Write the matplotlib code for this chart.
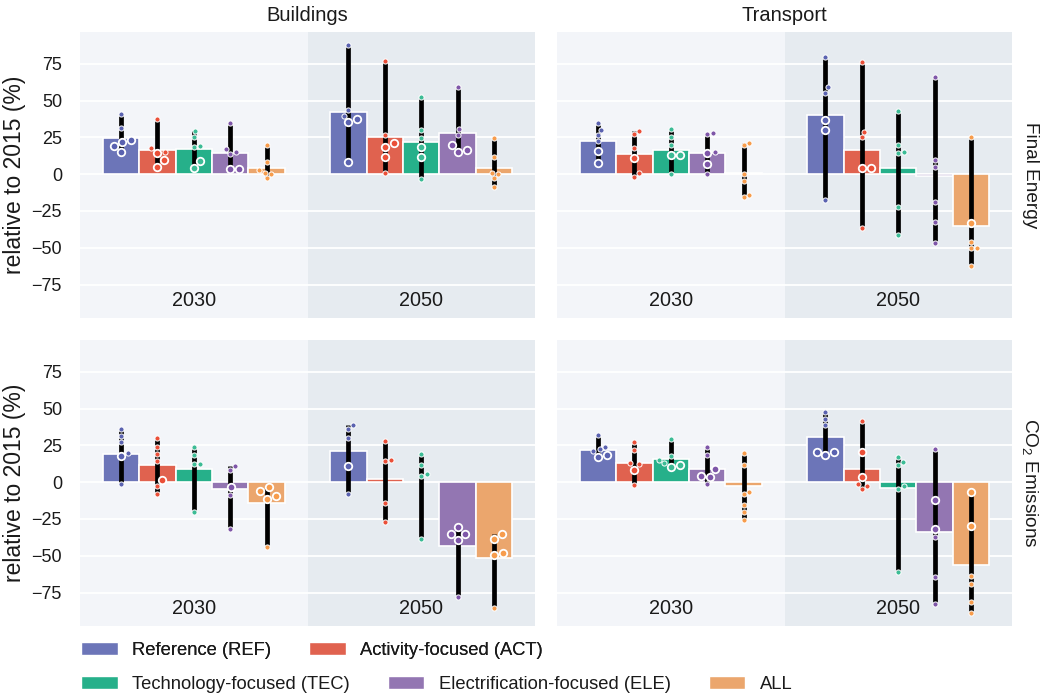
import numpy as np
import matplotlib
matplotlib.use('Agg')
import matplotlib.pyplot as plt
from matplotlib.patches import Patch

plt.rcParams['font.family'] = ['Liberation Sans', 'DejaVu Sans']
plt.rcParams['mathtext.fontset'] = 'custom'
plt.rcParams['mathtext.rm'] = 'Liberation Sans'
plt.rcParams['mathtext.it'] = 'Liberation Sans:italic'
plt.rcParams['text.color'] = '#1a1a1a'

scenarios = ['Reference (REF)', 'Activity-focused (ACT)', 'Technology-focused (TEC)',
             'Electrification-focused (ELE)', 'ALL']
years = ['2030', '2050']
sectors = ['Buildings', 'Transport']
indicators = ['Final Energy', 'CO$_2$ Emissions']

bar_colors = ['#6c75b8', '#e0624f', '#26b08a', '#9376b2', '#eba66d']
dot_colors = ['#5a62b0', '#ea4f38', '#3cbb95', '#7e56a8', '#f79c4c']

# mean change per scenario: [2030 values, 2050 values]
fe_bld_bars = [[24.7, 16.1, 17.0, 14.1, 3.9], [42.0, 25.6, 22.0, 27.7, 4.3]]
fe_trn_bars = [[22.4, 13.4, 16.3, 14.5, 0.7], [40.1, 16.6, 4.3, -1.4, -35.4]]
co2_bld_bars = [[19.4, 11.7, 9.0, -4.3, -14.2], [21.0, 2.3, 0.3, -43.3, -51.2]]
co2_trn_bars = [[22.1, 13.1, 15.8, 9.3, -2.9], [30.9, 9.0, -3.8, -33.9, -56.4]]

# single model results (small markers)
fe_bld_small = [
    [[41.0, 31.3], [37.4, 17.7, 15.0], [29.3, 25.2, 19.0, 18.6], [35.1, 15.2, 16.8, 13.8],
     [19.7, 8.2, -0.2, -2.9, 1.1, 2.7]],
    [[87.8, 43.3, 39.7], [77.1, 26.3, 0.7], [52.2, 29.7, 24.9, -3.2], [59.2, 30.6, 26.5],
     [24.9, 11.6, 0.2, -2.7, 1.1, -8.8]],
]
fe_trn_small = [
    [[34.7, 30.2, 26.8, 22.4], [29.5, 27.2, 17.7, 0.5, -2.0], [30.6, 25.2, 20.0, -0.2],
     [28.3, 27.0, 15.0, 0.2], [21.3, 20.0, 0.2, -4.3, -14.3, -15.6]],
    [[79.8, 59.0, 55.3, -17.2], [76.4, 29.0, 25.2, -36.7], [42.9, 15.4, 19.5, 14.3, -22.0, -41.3],
     [65.8, 9.5, 4.8, -19.0, -32.7, -46.5], [25.6, -45.8, -50.1, -50.1, -62.4]],
]
co2_bld_small = [
    [[36.1, 31.6, 27.3, 20.1, -0.9], [30.0, 23.9, 19.2, 14.4, -2.7, -7.7],
     [23.9, 18.5, 12.6, 12.6, -20.3], [11.1, 8.6, -8.4, -31.8], [-44.2]],
    [[38.6, 36.1, 30.0, -8.1], [28.2, 15.3, 14.4, -14.2, -26.9], [19.0, 11.5, 5.4, 4.5, -38.6],
     [-78.3], [-85.8]],
]
co2_trn_small = [
    [[32.1, 24.2, 21.4, 22.3], [27.1, 21.9, 12.6, 13.1, -1.8], [29.6, 17.6, 14.9, 13.1],
     [24.2, 18.7, -1.1], [19.9, 12.0, -6.5, -7.9, -15.6, -20.3, -25.5]],
    [[47.6, 43.1, 38.6], [41.5, -2.7, -1.1, -4.3], [14.0, 17.2, 11.5, -2.9, -4.3, -60.7],
     [22.8, -37.5, -64.3, -82.8], [-63.9, -69.5, -81.3, -88.9]],
]

# single model results (large markers)
fe_bld_large = [
    [[23.1, 22.2, 19.0, 15.2], [14.7, 9.5, 5.2], [9.1, 4.5], [3.6, 3.6], []],
    [[37.6, 35.6, 8.2], [21.1, 18.8, 11.6], [18.8, 11.6], [16.6, 15.2, 20.0], []],
]
fe_trn_large = [
    [[15.6, 7.3], [10.9], [13.2, 13.2], [14.5, 6.6], []],
    [[37.0, 29.9], [4.1, 4.1], [], [], [-32.9]],
]
co2_bld_large = [
    [[17.6], [1.6], [], [-3.2], [-3.6, -6.3, -9.5, -11.1]],
    [[11.3], [], [], [-30.5, -35.0, -35.0, -39.1], [-35.2, -38.6, -48.1, -49.7]],
]
co2_trn_large = [
    [[18.5, 17.2], [8.6], [12.0, 10.2], [9.0, 3.8, 4.3], []],
    [[20.3, 18.5, 20.8], [20.3, 3.2], [], [-12.0, -32.1], [-7.0, -30.0]],
]

panels = [
    [(fe_bld_bars, fe_bld_small, fe_bld_large), (fe_trn_bars, fe_trn_small, fe_trn_large)],
    [(co2_bld_bars, co2_bld_small, co2_bld_large), (co2_trn_bars, co2_trn_small, co2_trn_large)],
]

SMALL_S, SMALL_LW = 3.7, 0.7
LARGE_S, LARGE_LW = 5.4, 1.3
BAR_W = 0.16


def swarm_x(ax, xc, vals, radii):
    # beeswarm in pixel space: each point goes as close to the centre as it can
    xy = ax.transData.transform(np.c_[np.full(len(vals), xc), vals])
    x0 = xy[0, 0]
    placed = []
    out = np.empty(len(vals))
    for i in np.argsort(vals, kind='stable'):
        y, r = xy[i, 1], radii[i]
        cands = [x0]
        for px, py, pr in placed:
            d = r + pr
            dy = y - py
            if abs(dy) < d:
                dx = np.sqrt(d ** 2 - dy ** 2)
                cands += [px + dx, px - dx]
        cands.sort(key=lambda c: abs(c - x0))
        for c in cands:
            if all((c - px) ** 2 + (y - py) ** 2 >= (r + pr) ** 2 - 1e-6 for px, py, pr in placed):
                break
        placed.append((c, y, r))
        out[i] = c
    return ax.transData.inverted().transform(np.c_[out, xy[:, 1]])[:, 0]


fig = plt.figure(figsize=(10.42, 6.97), dpi=100)
W, H = 1042, 697
lefts = [80, 557]
tops = [32, 340]
pw, ph = 455, 286

px_per_pt = fig.dpi / 72
r_small = (SMALL_S + SMALL_LW) / 2 * px_per_pt
r_large = (LARGE_S + LARGE_LW) / 2 * px_per_pt

for row in range(2):
    for col in range(2):
        ax = fig.add_axes([lefts[col] / W, 1 - (tops[row] + ph) / H, pw / W, ph / H])
        ax.set_facecolor('#f3f5f9')
        ax.axvspan(0.5, 1.5, color='#e6ebf0', lw=0, zorder=0)
        ax.set_xlim(-0.5, 1.5)
        ax.set_ylim(-97.7, 96.6)
        ax.set_yticks([-75, -50, -25, 0, 25, 50, 75])
        ax.set_yticklabels(['\u221275', '\u221250', '\u221225', '0', '25', '50', '75'])
        ax.set_xticks([])
        ax.set_axisbelow(True)
        ax.grid(axis='y', color='white', lw=1.3)
        for s in ax.spines.values():
            s.set_visible(False)
        ax.tick_params(length=0, labelsize=13, pad=13, labelcolor='#1a1a1a')
        if col == 1:
            ax.tick_params(labelleft=False)
            ax.text(1.04, 0.5, indicators[row], transform=ax.transAxes, rotation=270,
                    ha='center', va='center', fontsize=13.7)
        else:
            ax.text(-0.143, 0.5, 'relative to 2015 (%)', transform=ax.transAxes, rotation=90,
                    ha='center', va='center', fontsize=16.5)
        if row == 0:
            ax.set_title(sectors[col], fontsize=14.5, pad=8)

        bars, small, large = panels[row][col]
        for i, year in enumerate(years):
            ax.text(i, -86, year, ha='center', va='center', fontsize=14.3)
            for j in range(len(scenarios)):
                x = i + (j - 2) * BAR_W
                ax.bar(x, bars[i][j], width=BAR_W, color=bar_colors[j],
                       edgecolor='white', lw=1.2, zorder=2)
                vals = np.array(small[i][j] + large[i][j], dtype=float)
                ax.vlines(x, vals.min(), vals.max(), color='black', lw=3.4, zorder=3)
                n_small = len(small[i][j])
                radii = np.array([r_small] * n_small + [r_large] * len(large[i][j]))
                xs = swarm_x(ax, x, vals, radii)
                ax.scatter(xs[:n_small], vals[:n_small], s=SMALL_S ** 2, color=dot_colors[j],
                           edgecolors='white', linewidths=SMALL_LW, zorder=4)
                if len(large[i][j]):
                    ax.scatter(xs[n_small:], vals[n_small:], s=LARGE_S ** 2, color=dot_colors[j],
                               edgecolors='white', linewidths=LARGE_LW, zorder=5)

handles = [Patch(facecolor=c, edgecolor='white', lw=1) for c in bar_colors]
leg_kw = dict(frameon=False, fontsize=13.2, handlelength=2.0, handleheight=0.72,
              handletextpad=0.8, columnspacing=2.05, borderpad=0, borderaxespad=0,
              loc='upper left')
leg1 = fig.legend(handles[:2], scenarios[:2], ncol=2, bbox_to_anchor=(81 / W, 1 - 642 / H), **leg_kw)
fig.add_artist(leg1)
fig.legend(handles[2:], scenarios[2:], ncol=3, bbox_to_anchor=(81 / W, 1 - 676 / H), **leg_kw)

fig.savefig('out.png', dpi=100)
